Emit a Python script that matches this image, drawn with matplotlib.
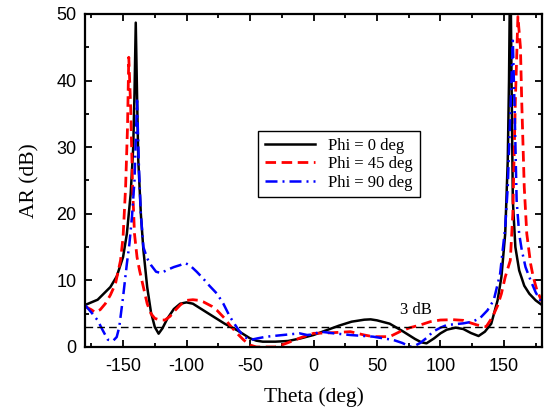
import matplotlib
matplotlib.use("Agg")
import matplotlib.pyplot as plt
from matplotlib.ticker import MultipleLocator

plt.rcParams["axes.unicode_minus"] = False

# Phi = 0 deg
theta0 = [-180, -170, -160, -155, -150, -147, -144, -142, -141, -140, -139, -138, -136, -134, -131,
          -128, -125, -122, -119, -115, -110, -105, -100, -95, -90, -85, -80, -75, -70, -65, -60,
          -55, -50, -45, -40, -30, -20, -10, 0, 10, 20, 30, 40, 45, 50, 60, 70, 80, 85, 89, 95,
          100, 105, 112, 118, 124, 130, 135, 140, 145, 148, 151, 153, 154, 155, 156, 157, 159,
          162, 166, 170, 175, 180]
ar0 = [6.3, 7.1, 9.0, 10.6, 13.5, 17, 23, 30, 38, 48.7, 38, 28, 20, 14.6, 9.0,
       5.2, 3.0, 2.0, 2.8, 4.3, 5.7, 6.5, 6.7, 6.5, 5.9, 5.3, 4.7, 4.1, 3.5, 3.0, 2.5,
       1.9, 1.3, 0.95, 0.8, 0.8, 0.9, 1.3, 1.8, 2.5, 3.2, 3.8, 4.1, 4.15, 4.0, 3.5, 2.4, 1.2, 0.7, 0.55, 1.3,
       2.05, 2.6, 2.9, 2.7, 2.1, 1.65, 2.3, 3.5, 7, 10.5, 17, 28, 40, 60, 40, 22, 15,
       11.5, 9.2, 8.0, 7.0, 6.3]

# Phi = 45 deg
theta45 = [-180, -175, -172, -168, -164, -160, -156, -152, -150, -148, -146.5, -145.5, -144, -142.5,
           -141, -139, -137, -134, -131, -128, -125, -121, -117, -113, -110, -105, -100, -95, -90,
           -87, -80, -76, -70, -66, -60, -55, -50, -45, -30, -25, -18, -10, 0, 10, 20, 29, 40, 47,
           60, 68, 76, 84, 92, 100, 110, 118, 124, 129, 136, 141, 145, 148, 151, 155, 157, 159,
           161, 163, 164, 166, 168, 171, 173, 176, 180]
ar45 = [6.1, 5.6, 5.2, 5.6, 6.5, 7.8, 9.5, 13, 16.5, 24, 33, 43.5, 36, 24,
        17, 13.5, 11.5, 9.0, 6.5, 5.0, 4.3, 4.05, 4.05, 4.6, 5.3, 6.3, 7.0, 7.1, 7.0,
        6.8, 6.1, 5.5, 4.3, 3.3, 2.0, 1.05, 0.3, 0.0, 0.0, 0.3, 0.8, 1.4, 2.05, 2.1, 2.2, 2.3, 1.8, 1.55,
        1.55, 2.3, 2.9, 3.3, 3.8, 4.05, 4.1, 4.0, 3.6, 3.3, 3.05, 4.5, 6.2, 8.0, 10.5, 13, 20, 37,
        49.6, 45, 37, 24, 17, 12.5, 10.6, 8.5, 6.8]

# Phi = 90 deg
theta90 = [-180, -175, -170, -166, -162, -158, -155, -153, -150, -147, -145, -143, -141, -139,
           -137.5, -136, -134, -131, -128, -124, -120, -115, -110, -105, -101, -97, -92, -87, -82,
           -76, -71, -66, -62, -59, -55, -50, -44, -37, -24, -11, -5, 0, 5, 10, 16, 29, 47, 63, 70,
           76, 80, 84, 90, 94, 100, 105, 118, 125, 131, 137, 142, 147, 151, 153, 155, 157, 158.5,
           160, 162, 164, 167, 171, 175, 180]
ar90 = [6.3, 5.2, 4.0, 2.5, 1.1, 0.9, 1.5, 3.0, 7.5, 12.5, 15.5, 19.5, 25, 37,
        27, 20, 15, 13.3, 12.3, 11.3, 11.1, 11.6, 12.0, 12.3, 12.6, 12.2, 11.3, 10.3, 9.2,
        8.0, 6.5, 4.6, 3.4, 2.55, 1.6, 1.05, 1.3, 1.55, 1.8, 2.05, 1.8, 1.9, 2.3, 2.2, 2.05, 1.8, 1.55, 1.05, 0.6,
        0.05, 0.2, 0.6, 1.5, 2.3, 2.9, 3.3, 3.55, 3.8, 4.3, 5.5, 7.05, 11, 18, 24, 35, 46, 35,
        22, 17, 14.6, 12, 10, 8.2, 6.55]

ref_level = 3

serif = "Liberation Serif"
sans = "Liberation Sans"

fig = plt.figure(figsize=(5.5, 4.09), dpi=100)
ax = fig.add_axes([0.1545, 0.1516, 0.831, 0.8142])

ax.plot(theta0, ar0, color="black", lw=1.8, label="Phi = 0 deg")
ax.plot(theta45, ar45, color="red", lw=2.0, ls=(0, (3.8, 2)), label="Phi = 45 deg")
ax.plot(theta90, ar90, color="blue", lw=1.8, ls=(0, (4.8, 2, 0.8, 2)), label="Phi = 90 deg")
ax.axhline(ref_level, color="black", lw=1.0, ls=(0, (5.5, 3)))
ax.text(81, 5.6, "3 dB", family=serif, fontsize=12, ha="center", va="center")

ax.set_xlim(-180, 180)
ax.set_ylim(0, 50)
ax.xaxis.set_major_locator(MultipleLocator(50))
ax.xaxis.set_minor_locator(MultipleLocator(25))
ax.yaxis.set_major_locator(MultipleLocator(10))
ax.yaxis.set_minor_locator(MultipleLocator(5))
ax.tick_params(which="both", direction="in", top=True, right=True, width=1.3)
ax.tick_params(which="major", length=5, labelsize=13)
ax.tick_params(which="minor", length=3)
ax.tick_params(axis="x", pad=8)
ax.tick_params(axis="y", pad=6)
ax.tick_params(labelright=False, labeltop=False)
for lab in ax.get_xticklabels() + ax.get_yticklabels():
    lab.set_family(sans)
for s in ax.spines.values():
    s.set_linewidth(1.6)

ax.set_xlabel("Theta (deg)", family=serif, fontsize=15.5, labelpad=9)
ax.set_ylabel("AR (dB)", family=serif, fontsize=15.5, labelpad=12)

leg = ax.legend(loc="upper left", bbox_to_anchor=(0.379, 0.649), borderaxespad=0,
                prop={"family": serif, "size": 12}, handlelength=3, fancybox=False,
                framealpha=1, labelspacing=0.15, borderpad=0.4)
leg.get_frame().set_edgecolor("black")
leg.get_frame().set_linewidth(1.0)

fig.savefig("out.png", dpi=100)
